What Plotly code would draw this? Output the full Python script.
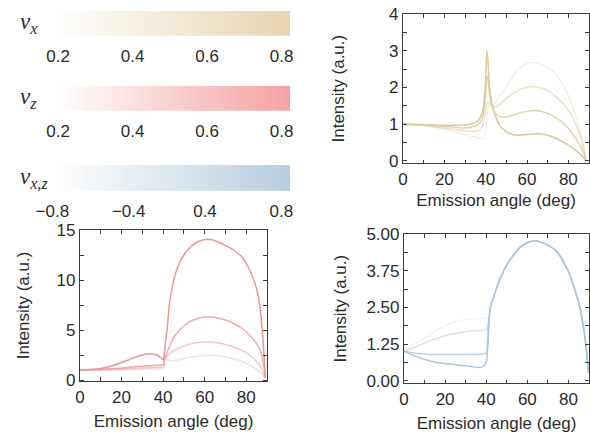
import numpy as np
import plotly.graph_objects as go

# ---------------- data ----------------
# colour-bar tick labels
vx_ticks = [0.2, 0.4, 0.6, 0.8]
vz_ticks = [0.2, 0.4, 0.6, 0.8]
vxz_ticks = ["\u22120.8", "\u22120.4", "0.4", "0.8"]

# top-right panel (v_x series), emission angle in deg
ang_x = [0, 5, 10, 15, 20, 25, 30, 33, 36, 38, 39, 40, 40.5, 41, 41.5, 42, 43, 44, 45, 47,
         50, 53, 56, 60, 63, 66, 70, 74, 78, 81, 84, 86, 88, 88.6]
vx_02 = [1.0, 0.99, 0.96, 0.92, 0.87, 0.8, 0.72, 0.67, 0.63, 0.61, 0.63, 0.8, 1.1, 1.35, 1.45, 1.5, 1.52,
         1.55, 1.62, 1.8, 2.0, 2.3, 2.5, 2.65, 2.68, 2.65, 2.55, 2.35, 2.0, 1.65, 1.15, 0.75, 0.2, 0.0]
vx_04 = [1.0, 0.99, 0.97, 0.94, 0.9, 0.86, 0.82, 0.8, 0.82, 0.9, 1.05, 1.35, 1.55, 1.62, 1.6, 1.55, 1.5,
         1.47, 1.48, 1.55, 1.7, 1.83, 1.93, 2.0, 2.03, 2.0, 1.92, 1.75, 1.52, 1.3, 0.95, 0.65, 0.2, 0.0]
vx_06 = [1.0, 0.99, 0.98, 0.96, 0.94, 0.92, 0.9, 0.92, 0.98, 1.1, 1.3, 1.8, 2.25, 2.3, 2.0, 1.75, 1.5,
         1.35, 1.27, 1.2, 1.2, 1.25, 1.3, 1.35, 1.37, 1.36, 1.3, 1.18, 1.0, 0.82, 0.58, 0.4, 0.12, 0.0]
vx_08 = [1.0, 1.0, 0.99, 0.98, 0.97, 0.97, 0.98, 1.0, 1.08, 1.25, 1.5, 2.2, 3.0, 2.8, 2.3, 1.95, 1.6,
         1.35, 1.18, 0.95, 0.8, 0.72, 0.7, 0.72, 0.74, 0.74, 0.7, 0.62, 0.5, 0.4, 0.27, 0.17, 0.05, 0.0]

# bottom-left panel (v_z series)
ang_z = [0, 5, 10, 15, 20, 25, 30, 33, 35, 37, 39, 40, 40.5, 41, 42, 43, 44, 45, 47, 50, 53, 56, 60,
         63, 66, 70, 74, 78, 81, 84, 86, 87.5, 88.5, 89.2]
vz_02 = [1.0, 1.0, 1.0, 1.01, 1.03, 1.05, 1.07, 1.09, 1.1, 1.11, 1.13, 1.15, 1.7, 2.0, 2.05, 1.98, 1.95,
         1.95, 2.0, 2.15, 2.28, 2.38, 2.45, 2.47, 2.42, 2.3, 2.12, 1.85, 1.55, 1.2, 0.9, 0.6, 0.3, 0.1]
vz_04 = [1.0, 1.01, 1.02, 1.06, 1.1, 1.15, 1.2, 1.23, 1.25, 1.27, 1.28, 1.3, 1.8, 2.1, 2.4, 2.6, 2.75,
         2.9, 3.15, 3.4, 3.6, 3.72, 3.8, 3.8, 3.72, 3.55, 3.3, 2.95, 2.6, 2.05, 1.6, 1.1, 0.6, 0.2]
vz_06 = [1.0, 1.02, 1.05, 1.12, 1.2, 1.3, 1.38, 1.42, 1.45, 1.48, 1.5, 1.5, 1.9, 2.3, 2.8, 3.3, 3.8,
         4.2, 4.8, 5.4, 5.85, 6.1, 6.3, 6.3, 6.2, 6.0, 5.65, 5.15, 4.6, 3.9, 3.3, 2.5, 1.3, 0.3]
vz_08 = [1.0, 1.05, 1.15, 1.4, 1.75, 2.15, 2.5, 2.62, 2.6, 2.5, 2.2, 2.0, 2.4, 3.5, 5.2, 7.6, 8.8,
         9.9, 11.3, 12.5, 13.25, 13.75, 14.05, 14.05, 13.85, 13.45, 13.0, 12.3, 11.3, 9.8, 8.2, 5.5, 2.8, 0.2]

# bottom-right panel (v_xz series): separate part below 42 deg, shared part above
ang_xz_low = [0, 4, 8, 12, 16, 20, 24, 28, 32, 36, 38, 39.5, 40.3, 41, 41.5]
vxz_m08 = [1.0, 1.2, 1.38, 1.55, 1.72, 1.88, 1.98, 2.06, 2.1, 2.12, 2.12, 2.12, 2.13, 2.2, 2.3]
vxz_m04 = [1.0, 1.1, 1.22, 1.34, 1.44, 1.53, 1.6, 1.65, 1.69, 1.71, 1.72, 1.72, 1.74, 2.0, 2.25]
vxz_p04 = [1.0, 0.95, 0.92, 0.9, 0.89, 0.89, 0.89, 0.89, 0.89, 0.9, 0.91, 0.93, 1.0, 1.8, 2.2]
vxz_p08 = [1.0, 0.88, 0.77, 0.69, 0.62, 0.58, 0.55, 0.52, 0.49, 0.45, 0.47, 0.55, 0.7, 1.5, 2.15]
ang_xz_high = [42, 43, 44, 45, 47, 50, 53, 56, 60, 63, 66, 70, 74, 76, 78, 80, 82, 84, 86, 87, 88, 89,
               89.8]
vxz_common = [2.5, 2.72, 2.93, 3.14, 3.52, 3.95, 4.25, 4.52, 4.7, 4.77, 4.74, 4.62, 4.42, 4.24, 4.0,
              3.72, 3.35, 2.9, 2.38, 1.95, 1.5, 0.85, 0.26]

# ---------------- styling ----------------
FONT = "Liberation Sans"
TXT = "#2b2b2b"
AX = "#3a3a3a"
TAN = (220, 200, 154)
PINK = (238, 150, 150)
BLUE = (172, 199, 216)
alphas = [0.3, 0.55, 0.8, 1.0]
W, H = 590, 433
LW = 1.5


def rgba(c, a):
    return f"rgba({c[0]},{c[1]},{c[2]},{a})"


def px(x0, x1):
    return [x0 / W, x1 / W]


def py(top, bottom):
    return [1 - bottom / H, 1 - top / H]


fig = go.Figure()

# top-right
for a, ys in zip(alphas, [vx_02, vx_04, vx_06, vx_08]):
    fig.add_trace(go.Scatter(x=ang_x, y=ys, mode="lines", xaxis="x", yaxis="y",
                             line=dict(color=rgba(TAN, a), width=LW, shape="spline", smoothing=0.6),
                             showlegend=False, hoverinfo="skip"))
# bottom-left
for a, ys in zip(alphas, [vz_02, vz_04, vz_06, vz_08]):
    fig.add_trace(go.Scatter(x=ang_z, y=ys, mode="lines", xaxis="x2", yaxis="y2",
                             line=dict(color=rgba(PINK, a), width=LW, shape="spline", smoothing=0.6),
                             showlegend=False, hoverinfo="skip"))
# bottom-right
for a, ys in zip([0.2, 0.5, 0.8, 1.0], [vxz_m08, vxz_m04, vxz_p04, vxz_p08]):
    fig.add_trace(go.Scatter(x=ang_xz_low + ang_xz_high, y=ys + vxz_common, mode="lines",
                             xaxis="x3", yaxis="y3",
                             line=dict(color=rgba(BLUE, a), width=LW, shape="spline", smoothing=0.4),
                             showlegend=False, hoverinfo="skip"))

# colour bars
cb_rng = [0.1917, 0.8226]
cb3_rng = [-0.05, 3.114]
g = np.linspace(cb_rng[0], cb_rng[1], 200)
g3 = np.linspace(0.034, cb3_rng[1], 200)
for xa, ya, grid, end in [("x4", "y4", g, "#e6d5ae"), ("x5", "y5", g, "#f4a2a2"),
                          ("x6", "y6", g3, "#b7cddd")]:
    fig.add_trace(go.Heatmap(x=grid, y=[0], z=[np.linspace(0, 1, len(grid))], xaxis=xa, yaxis=ya,
                             colorscale=[[0, "#ffffff"], [1, end]], showscale=False,
                             hoverinfo="skip", zmin=0, zmax=1))

tickfont = dict(family=FONT, size=17, color=TXT)
titlefont = dict(family=FONT, size=17, color=TXT)


def frame_axis(domain, rng, dtick, minor, title, standoff, anchor):
    return dict(domain=domain, range=rng, dtick=dtick, tick0=0, showline=True, linecolor=AX,
                linewidth=1.2, mirror="ticks", ticks="inside", ticklen=3.5, tickwidth=1,
                tickcolor=AX, minor=dict(ticks="inside", ticklen=3.5, dtick=minor, tick0=0,
                                         tickcolor=AX, tickwidth=1),
                showgrid=False, zeroline=False, tickfont=tickfont, anchor=anchor, automargin=False,
                title=dict(text=title, font=titlefont, standoff=standoff))


xt = "Emission angle (deg)"
yt = "Intensity (a.u.)"
layout = dict(
    width=W, height=H, margin=dict(l=0, r=0, t=0, b=0, autoexpand=False),
    paper_bgcolor="white", plot_bgcolor="white", showlegend=False,
    font=dict(family=FONT, color=TXT),
    xaxis=frame_axis(px(403, 589), [0, 90], 20, 10, xt, 6, "y"),
    yaxis=frame_axis(py(14, 163.3), [-0.063, 4.0], 1, 0.5, yt, 40, "x"),
    xaxis2=frame_axis(px(80, 267), [0, 90], 20, 10, xt, 9, "y2"),
    yaxis2=frame_axis(py(230, 381), [-0.1, 15], 5, 2.5, yt, 22, "x2"),
    xaxis3=frame_axis(px(404, 589), [0, 90], 20, 10, xt, 9, "y3"),
    yaxis3=frame_axis(py(234, 383.3), [-0.09, 5.0], 1.25, 0.625, yt, 15, "x3"),
)
layout["yaxis3"]["tickformat"] = ".2f"

cb_pos = [("4", py(11, 35.7)), ("5", py(85.7, 111)), ("6", py(165, 190.7))]
for k, ydom in cb_pos:
    xa = dict(anchor="y" + k, showline=False, showgrid=False, zeroline=False, automargin=False,
              ticks="outside", ticklen=5, tickcolor="rgba(0,0,0,0)", tickfont=tickfont)
    if k == "6":
        x0 = 52.4 + cb3_rng[0] * 76.3
        xa.update(domain=px(x0, 290), range=cb3_rng, tickvals=list(range(len(vxz_ticks))),
                  ticktext=vxz_ticks)
    else:
        labels = vx_ticks if k == "4" else vz_ticks
        xa.update(domain=px(55, 290), range=cb_rng, tickvals=labels,
                  ticktext=[f"{v:.1f}" for v in labels])
    layout["xaxis" + k] = xa
    layout["yaxis" + k] = dict(domain=ydom, anchor="x" + k, visible=False, range=[-0.5, 0.5],
                               automargin=False)

fig.update_layout(**layout)

SERIF = "Liberation Serif"
for sub, ycen in [("x", 23), ("z", 98), ("x,z", 178)]:
    fig.add_annotation(text=f"<i>v</i><sub><i>{sub}</i></sub>", xref="paper", yref="paper",
                       x=18 / W, y=1 - ycen / H, xanchor="left", yanchor="middle", showarrow=False,
                       font=dict(family=SERIF, size=23, color=TXT))

fig.write_html("out.html", config={"displayModeBar": False},
               post_script="document.body.style.margin='0';document.body.style.overflow='hidden';")
